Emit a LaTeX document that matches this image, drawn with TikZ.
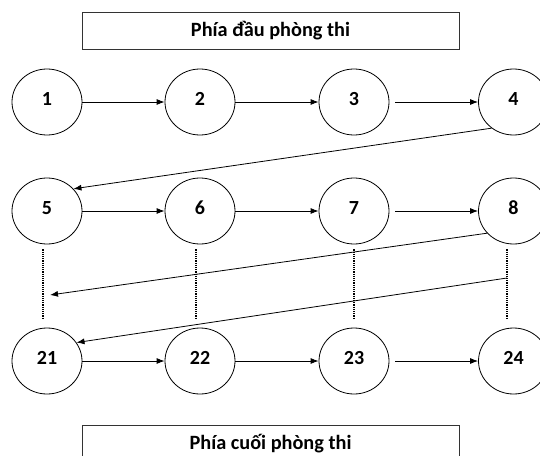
\documentclass[tikz,border=0pt]{standalone}
\usepackage{fontspec}
\setmainfont{Carlito}
\usetikzlibrary{shapes.geometric, arrows.meta}

\tikzset{
	seat/.style={draw, ellipse, minimum width=70pt, minimum height=66pt, inner sep=0pt,
		text depth=6pt, font=\bfseries\fontsize{20}{24}\selectfont},
	sidebox/.style={draw=black!80, minimum width=377pt, minimum height=36.6pt,
		font=\bfseries\fontsize{20.3}{24}\selectfont},
	link/.style={-{Latex[length=8pt, width=6pt]}},
	gap/.style={densely dotted, line width=1.2pt},
}

\begin{document}
\begin{tikzpicture}[x=1pt, y=-1pt, line width=0.8pt]
	\useasboundingbox (0,0) rectangle (540,455);
	\clip (0,0) rectangle (540,455);
	
	%front and back of the room
	\node[sidebox] (front) at (270.5, 31) {Phía đầu phòng thi};
	\node[sidebox] (back) at (270.5, 444) {Phía cuối phòng thi};
	
	%seats
	\foreach \n/\x in {1/47, 2/200, 3/354, 4/513.5}{
		\node[seat] (c\n) at (\x, 102) {\n};
	}
	\foreach \n/\x in {5/47, 6/200, 7/354, 8/513.5}{
		\node[seat] (c\n) at (\x, 211) {\n};
	}
	\foreach \n/\x in {21/47, 22/200, 23/354, 24/513.5}{
		\node[seat] (c\n) at (\x, 361) {\n};
	}
	
	%rows
	\foreach \a/\b in {1/2, 2/3, 5/6, 6/7, 21/22, 22/23}{
		\draw[link] (c\a.east) -- (c\b.west);
	}
	\foreach \a/\b in {3/4, 7/8, 23/24}{
		\draw[link, shorten <=6pt] (c\a.east) -- (c\b.west);
	}
	
	%skipped rows
	\foreach \a/\b/\dx in {5/21/-4, 6/22/-4, 7/23/0, 8/24/-6.5}{
		\draw[gap] ([xshift=\dx pt, yshift=-5pt]c\a.south) -- ([xshift=\dx pt, yshift=9pt]c\b.north);
	}
	
	%row changes
	\coordinate (turn1) at (50, 295);
	\coordinate (turn2) at (507, 278);
	\draw[link] (c4.230) -- (c5.40);
	\draw[link] (c8.220) -- (turn1);
	\draw[link] (turn2) -- (c21.32);
\end{tikzpicture}
\end{document}
